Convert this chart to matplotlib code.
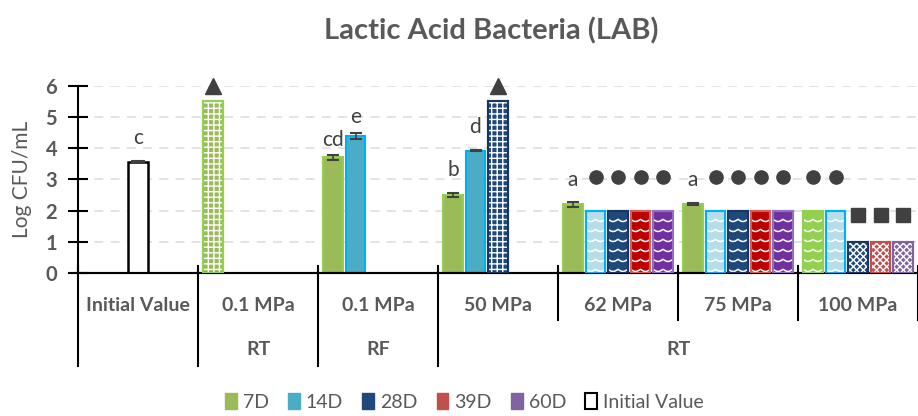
import numpy as np
import matplotlib
matplotlib.use('Agg')
import matplotlib.pyplot as plt
from matplotlib.patches import Patch
import matplotlib.transforms as mtransforms

plt.rcParams['font.family'] = ['Lato', 'DejaVu Sans']
plt.rcParams['hatch.linewidth'] = 1.0

nan = np.nan
groups = ['Initial Value', '0.1 MPa', '0.1 MPa', '50 MPa', '62 MPa', '75 MPa', '100 MPa']
storage = ['', 'RT', 'RF', 'RT']
storage_span = [(0, 1), (1, 2), (2, 3), (3, 7)]

series = ['7D', '14D', '28D', '39D', '60D']
d7 = [nan, 5.5, 3.71, 2.50, 2.20, 2.22, 2.0]
d14 = [nan, nan, 4.39, 3.92, 2.0, 2.0, 2.0]
d28 = [nan, nan, nan, 5.5, 2.0, 2.0, 1.0]
d39 = [nan, nan, nan, nan, 2.0, 2.0, 1.0]
d60 = [nan, nan, nan, nan, 2.0, 2.0, 1.0]
e7 = [0, 0, 0.08, 0.07, 0.07, 0.03, 0]
e14 = [0, 0, 0.10, 0.02, 0, 0, 0]
initial = 3.57
initial_err = 0.02

# significance letters: (group, series index or -1 for initial, text, y)
letters = [(0, -1, 'c', 4.33), (2, 0, 'cd', 4.26), (2, 1, 'e', 5.0),
           (3, 0, 'b', 3.3), (3, 1, 'd', 4.69), (4, 0, 'a', 2.98), (5, 0, 'a', 2.98)]

# symbols above bars: (group, series index, marker, y)
symbols = [(1, 0, '^', 6.0), (3, 2, '^', 6.0)]
symbols += [(4, i, 'o', 3.09) for i in range(1, 5)]
symbols += [(5, i, 'o', 3.09) for i in range(1, 5)]
symbols += [(6, 0, 'o', 3.09), (6, 1, 'o', 3.09)]
symbols += [(6, i, 's', 1.85) for i in range(2, 5)]

values = [d7, d14, d28, d39, d60]
errors = [e7, e14, None, None, None]

fill = ['#9BBB59', '#4BACC6', '#1F497D', '#C0504D', '#8064A2']
edge = ['#92D050', '#00B0F0', '#17375E', '#C0504D', '#8064A2']
# patterned bars: fill colour, edge colour, pattern
wave_fill = ['#92D050', '#B7DEE8', '#1F497D', '#C00000', '#7030A0']
wave_edge = ['#92D050', '#00B0F0', '#17375E', '#D06060', '#9070C0']
check_fill = ['#92D050', '#B7DEE8', '#1F497D', '#C0504D', '#8064A2']
pattern = {(1, 0): 'grid', (3, 2): 'grid'}
for g in (4, 5):
    for i in range(1, 5):
        pattern[(g, i)] = 'wave'
pattern[(6, 0)] = 'wave'
pattern[(6, 1)] = 'wave'
for i in range(2, 5):
    pattern[(6, i)] = 'check'

pitch = 0.1875
width = 0.165
gray = '#595959'

fig = plt.figure(figsize=(9.18, 4.16), dpi=100)
ax = fig.add_axes([78 / 918, 1 - 273 / 416, 840 / 918, 187.3 / 416])
ax.set_xlim(0, 7)
ax.set_ylim(0, 6)


def xpos(g, i):
    return g + 0.5 + (i - 2) * pitch


def draw_wave(bar, top, color):
    x0 = bar.get_x()
    w = bar.get_width()
    xs = np.linspace(x0, x0 + w, 60)
    for y0 in np.arange(0.12, top, 0.32):
        ys = y0 - 0.07 * np.abs(np.sin((xs - x0) / w * 2 * np.pi))
        ln, = ax.plot(xs, ys, color=color, lw=1.1, zorder=3)
        ln.set_clip_path(bar)


for i in range(5):
    for g in range(7):
        v = values[i][g]
        if np.isnan(v):
            continue
        x = xpos(g, i)
        kind = pattern.get((g, i))
        if kind == 'grid':
            b = ax.bar(x, v, width, color=fill[i], edgecolor=edge[i], lw=1.5, zorder=2)[0]
            ax.bar(x, v, width, color='none', edgecolor='white', hatch='+++', lw=0, zorder=3)
            ax.bar(x, v, width, color='none', edgecolor=edge[i] if i == 0 else '#17375E', lw=1.5, zorder=4)
        elif kind == 'wave':
            b = ax.bar(x, v, width, color=wave_fill[i], edgecolor=wave_edge[i], lw=1.5, zorder=2)[0]
            draw_wave(b, v, 'white')
            ax.bar(x, v, width, color='none', edgecolor=wave_edge[i], lw=1.5, zorder=4)
        elif kind == 'check':
            ax.bar(x, v, width, color=check_fill[i], edgecolor=edge[i], lw=1.5, zorder=2)
            ax.bar(x, v, width, color='none', edgecolor='white', hatch='xxxxx', lw=0, zorder=3)
            ax.bar(x, v, width, color='none', edgecolor=edge[i], lw=1.5, zorder=4)
        else:
            ax.bar(x, v, width, color=fill[i], edgecolor=edge[i], lw=1.5, zorder=2)
        if errors[i] is not None and errors[i][g] > 0:
            ax.errorbar(x, v, yerr=errors[i][g], color='#404040', capsize=4,
                        lw=1.2, capthick=1.5, zorder=5)

ax.bar(0.5, initial, width, color='white', edgecolor='black', lw=1.8, zorder=2)
ax.errorbar(0.5, initial, yerr=initial_err, color='#404040', capsize=5, lw=1.2,
            capthick=1.5, zorder=5)

for g, i, txt, y in letters:
    x = 0.5 if i < 0 else xpos(g, i)
    ax.text(x, y, txt, ha='center', va='center', fontsize=15, color='#404040', zorder=6)

for g, i, m, y in symbols:
    size = 11 if m == '^' else 9.5
    ax.plot(xpos(g, i), y, marker=m, ms=size, color='#404040', ls='none',
            clip_on=False, zorder=6)

ax.yaxis.grid(True, color='#E0E0E0', ls=(0, (5, 4)), lw=1.3)
ax.set_axisbelow(True)
ax.set_yticks(range(7))
ax.tick_params(axis='y', direction='inout', length=14, width=1.5, labelsize=14.5,
               labelcolor=gray, pad=8)
for lab in ax.get_yticklabels():
    lab.set_fontweight('bold')
ax.set_xticks([])
for s in ('top', 'right'):
    ax.spines[s].set_visible(False)
ax.spines['left'].set_linewidth(1.5)
ax.spines['bottom'].set_linewidth(1.5)
ax.set_ylabel('Log CFU/mL', fontsize=15, color=gray, labelpad=10)

# two-level category axis
trans = mtransforms.blended_transform_factory(ax.transData, ax.transAxes)
ax.plot([-0.05, 7], [0, 0], color='black', lw=1.5, transform=trans, clip_on=False)
for b in range(8):
    low = -0.497 if b in (0, 1, 2, 3) else -0.251
    ax.plot([b, b], [0.04, low], color='black', lw=1.5, transform=trans, clip_on=False)
for g, name in enumerate(groups):
    ax.text(g + 0.5, -0.171, name, ha='center', va='center', fontsize=14,
            fontweight='bold', color=gray, transform=trans)
for name, (a, b) in zip(storage, storage_span):
    ax.text((a + b) / 2, -0.411, name, ha='center', va='center', fontsize=14,
            fontweight='bold', color=gray, transform=trans)

fig.text(0.535, 0.925, 'Lactic Acid Bacteria (LAB)', ha='center', va='center',
         fontsize=21, fontweight='bold', color=gray)

handles = [Patch(facecolor=c, edgecolor=c) for c in fill]
handles.append(Patch(facecolor='white', edgecolor='black', lw=1.5))
fig.legend(handles, series + ['Initial Value'], loc='center', ncol=6,
           bbox_to_anchor=(0.506, 0.034), frameon=False, fontsize=14,
           handlelength=0.6, handleheight=0.9, handletextpad=0.3, columnspacing=1.0,
           labelcolor=gray)

fig.savefig('out.png', dpi=100)
